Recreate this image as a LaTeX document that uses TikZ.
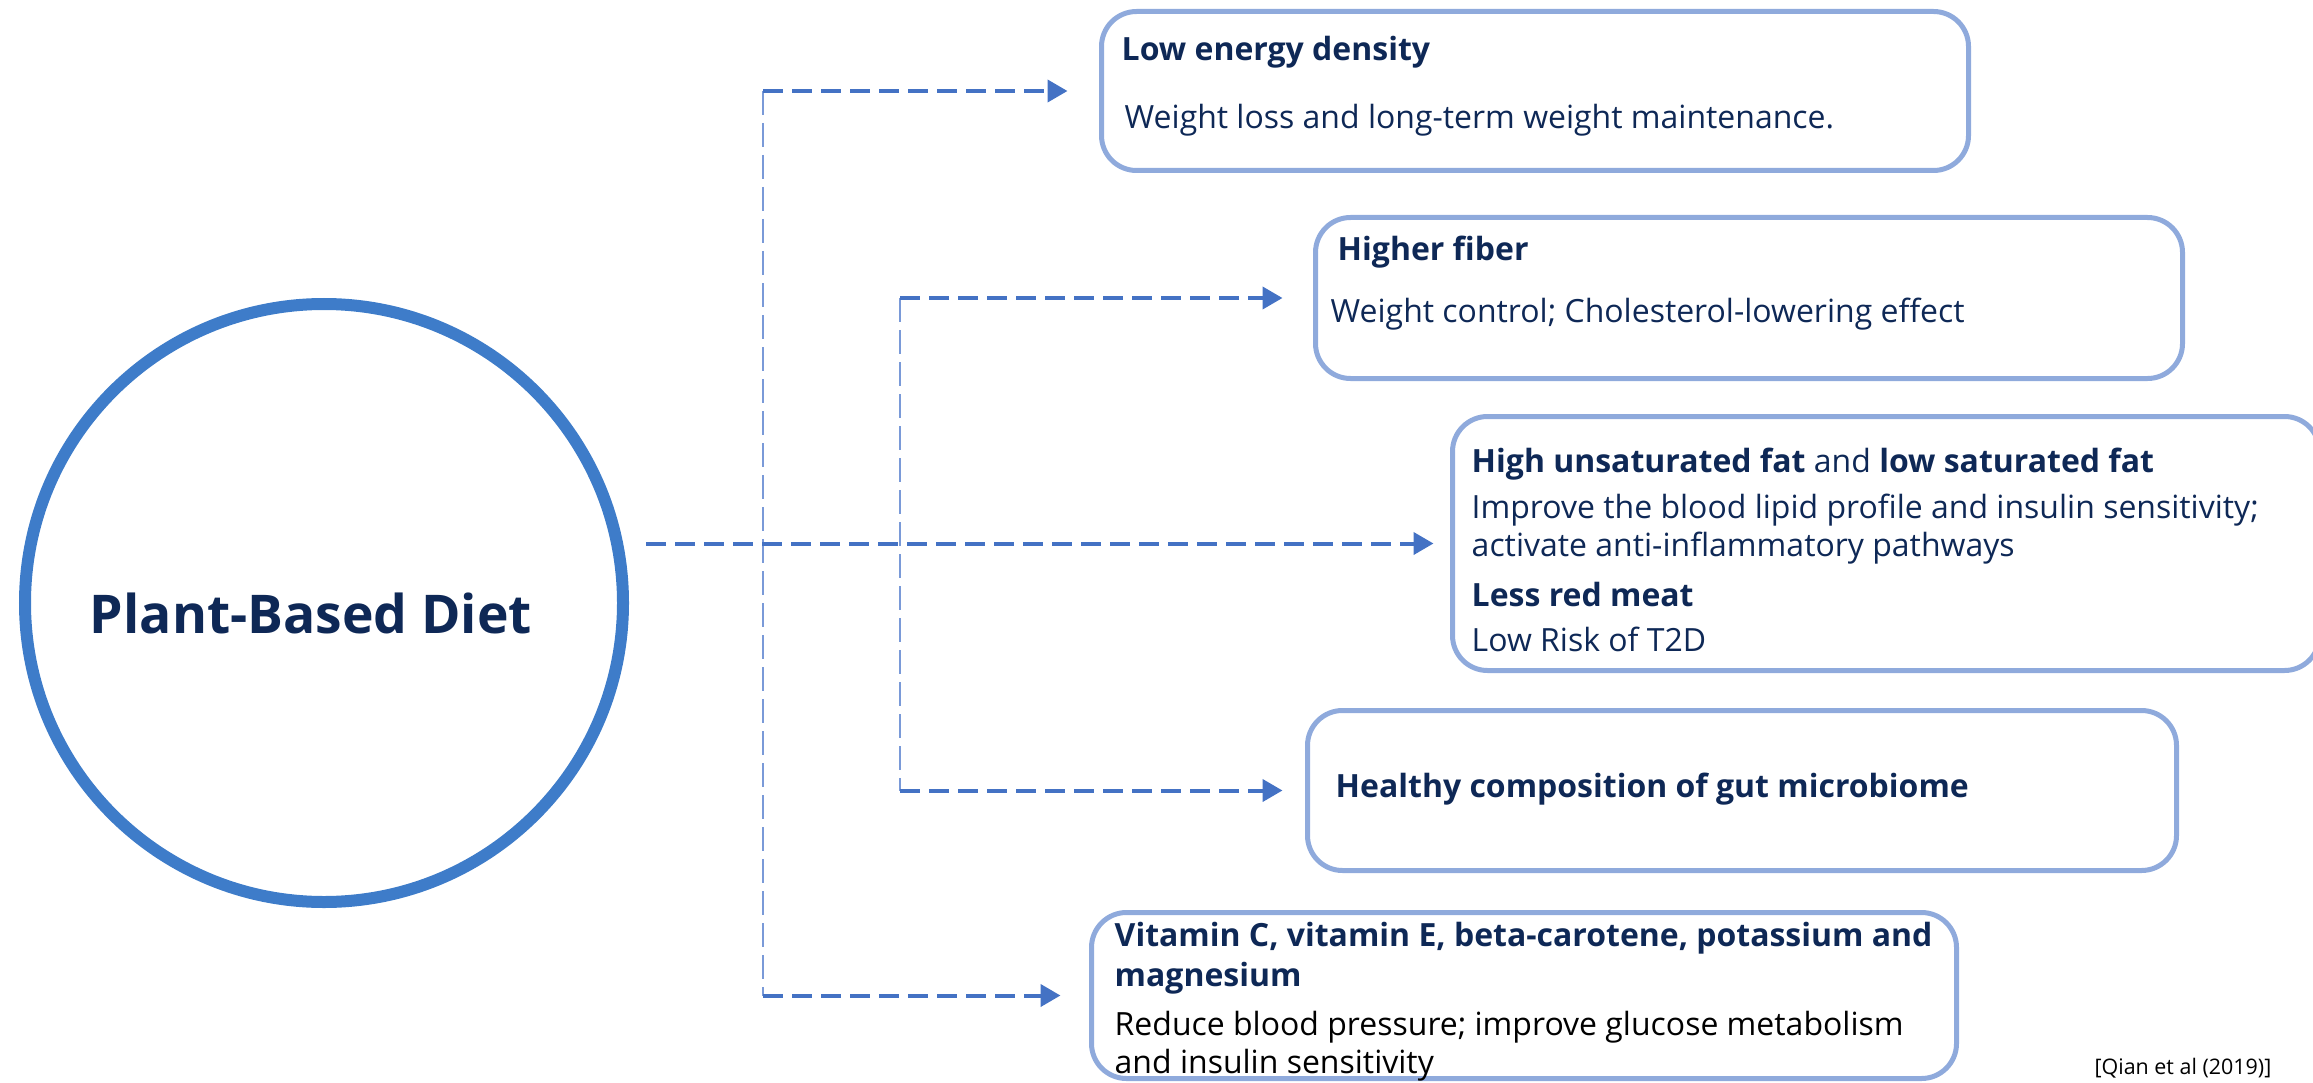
\documentclass[tikz,border=0pt]{standalone}
\usepackage{fontspec}
\setmainfont{Open Sans}
\usetikzlibrary{arrows.meta,shapes}
\definecolor{ringblue}{RGB}{62,124,201}
\definecolor{arrowblue}{RGB}{68,114,196}
\definecolor{railblue}{RGB}{122,154,216}
\definecolor{cardblue}{RGB}{143,170,220}
\definecolor{navy}{RGB}{14,40,86}
\tikzset{
	ring/.style={circle, draw=ringblue, line width=1.2mm, minimum size=59.8mm, inner sep=0pt, outer sep=0pt},
	ringtext/.style={inner sep=0pt, text=navy, font=\bfseries\fontsize{15.2pt}{18pt}\selectfont},
	card/.style={draw=cardblue, line width=0.5mm, rounded corners=3.5mm, anchor=north west, inner sep=0pt, outer sep=0pt},
	cardtext/.style={anchor=west, align=left, inner sep=0pt, text=navy, font=\fontsize{9.1pt}{10.8pt}\selectfont},
	feed/.style={arrowblue, line width=0.4mm, dash pattern=on 2mm off 0.9mm, -{Triangle[length=2mm,width=2.2mm]}},
	rail/.style={railblue, line width=0.25mm, dash pattern=on 2.4mm off 0.8mm},
}
\begin{document}
\begin{tikzpicture}[x=1mm, y=1mm]
	\clip (0,0) rectangle (231.3,-108.3);
	% main circle
	\node[ring] (diet) at (32.4,-60.3) {};
	\node[ringtext] (dietlbl) at ([xshift=-1.3mm,yshift=-1mm]diet.center) {Plant-Based Diet};
	% cards
	\node[card, minimum width=86.7mm, minimum height=15.9mm] (ed) at (110.15,-1.15) {};
	\node[card, minimum width=86.7mm, minimum height=16.1mm] (fib) at (131.55,-21.75) {};
	\node[card, minimum width=86.7mm, minimum height=25.4mm] (fat) at (145.25,-41.65) {};
	\node[card, minimum width=86.9mm, minimum height=16.0mm] (gut) at (130.75,-71.05) {};
	\node[card, minimum width=86.5mm, minimum height=16.6mm] (vit) at (109.15,-91.25) {};
	% card texts
	\node[cardtext] (edtxt) at (112.1,-8.6) {\textbf{Low energy density}\\[3mm]\hspace{0.3mm}Weight loss and long-term weight maintenance.};
	\node[cardtext] (fibtxt) at (133.0,-28.3) {\hspace{0.7mm}\textbf{Higher fiber}\\[2.4mm]Weight control; Cholesterol-lowering effect};
	\node[cardtext] (fattxt) at (147.1,-54.95) {\textbf{High unsaturated fat} and \textbf{low saturated fat}\\[0.8mm]Improve the blood lipid profile and insulin sensitivity;\\activate anti-inflammatory pathways\\[1.2mm]\textbf{Less red meat}\\[0.7mm]Low Risk of T2D};
	\node[cardtext] (guttxt) at (133.5,-78.9) {\textbf{Healthy composition of gut microbiome}};
	\node[cardtext] (vittxt) at (111.4,-100.2) {\textbf{Vitamin C, vitamin E, beta-carotene, potassium and}\\[0.2mm]\textbf{magnesium}\\[1.1mm]\color{black}Reduce blood pressure; improve glucose metabolism\\\color{black}and insulin sensitivity};
	\node[anchor=east, inner sep=0pt, font=\fontsize{6.1pt}{7pt}\selectfont] (cite) at (227.2,-106.8) {[Qian et al (2019)]};
	% rails
	\coordinate (railL) at (76.3,0);
	\coordinate (railR) at (90.0,0);
	\draw[rail] (railL |- ed.west) -- (railL |- vit.west);
	\draw[rail] (railR |- fib.west) -- (railR |- gut.west);
	% arrows
	\draw[feed] ([xshift=2.3mm]diet.east |- fat.west) -- ([xshift=-1.9mm]fat.west);
	\draw[feed] (railL |- ed.west) -- ([xshift=-3.4mm]ed.west);
	\draw[feed] (railL |- vit.west) -- ([xshift=-3.1mm]vit.west);
	\draw[feed] (railR |- fib.west) -- ([xshift=-3.3mm]fib.west);
	\draw[feed] (railR |- gut.west) -- ([xshift=-2.5mm]gut.west);
\end{tikzpicture}
\end{document}
